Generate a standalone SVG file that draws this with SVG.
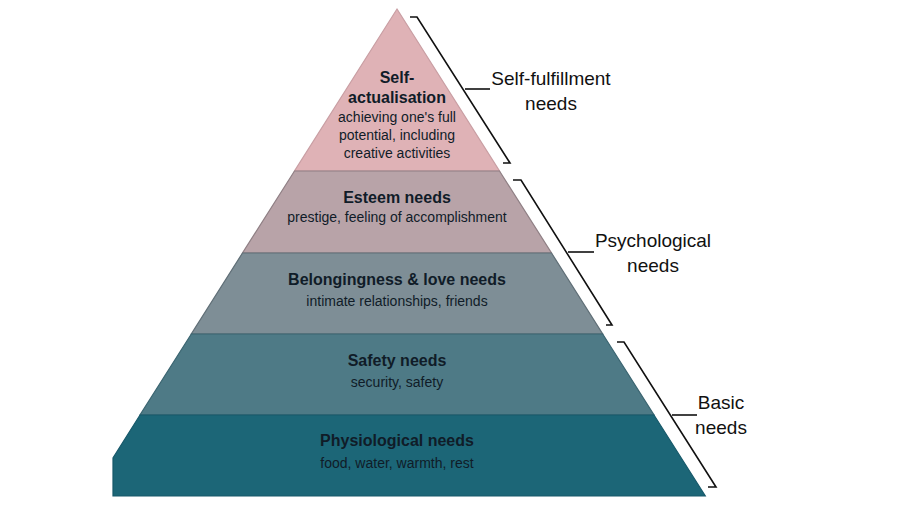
<svg xmlns="http://www.w3.org/2000/svg" width="900" height="506" viewBox="0 0 900 506">
<style>
.t{font-family:"Liberation Sans",Arial,sans-serif;fill:#101c28;text-anchor:middle}
.b{font-weight:bold;font-size:16px}
.s{font-size:14px}
.lab{font-family:"Liberation Sans",Arial,sans-serif;fill:#111;font-size:19px;text-anchor:middle}
.br{fill:none;stroke:#111;stroke-width:1.6}
.ly{stroke-width:1.2}
</style>
<rect width="900" height="506" fill="#ffffff"/>
<g id="self-actualisation">
<polygon class="ly" points="397,9 499.5,171 294.5,171" fill="#dfb2b6" stroke="#c99ea3"/>
<text class="t b" x="397" y="83">Self-</text>
<text class="t b" x="397" y="103">actualisation</text>
<text class="t s" x="397" y="122">achieving one's full</text>
<text class="t s" x="397" y="140">potential, including</text>
<text class="t s" x="397" y="158">creative activities</text>
</g>
<g id="esteem">
<polygon class="ly" points="294.5,171 499.5,171 551.5,253 242.5,253" fill="#b8a3a8" stroke="#8f7f84"/>
<text class="t b" x="397" y="203">Esteem needs</text>
<text class="t s" x="397" y="222">prestige, feeling of accomplishment</text>
</g>
<g id="belongingness">
<polygon class="ly" points="242.5,253 551.5,253 602.7,334 191.3,334" fill="#7e8e96" stroke="#5f6e76"/>
<text class="t b" x="397" y="285">Belongingness &amp; love needs</text>
<text class="t s" x="397" y="306">intimate relationships, friends</text>
</g>
<g id="safety">
<polygon class="ly" points="191.3,334 602.7,334 654,415 140,415" fill="#4e7a86" stroke="#3a6470"/>
<text class="t b" x="397" y="366">Safety needs</text>
<text class="t s" x="397" y="387">security, safety</text>
</g>
<g id="physiological">
<polygon class="ly" points="140,415 654,415 705.3,496 113,496 113,458" fill="#1c6677" stroke="#17596a"/>
<text class="t b" x="397" y="446">Physiological needs</text>
<text class="t s" x="397" y="468">food, water, warmth, rest</text>
</g>
<g id="connectors">
<polyline class="br" points="410,17 417,17 510,163 503,163"/>
<line class="br" x1="465" y1="89" x2="490" y2="89"/>
<polyline class="br" points="513,180 521,180 612,325 606,325"/>
<line class="br" x1="568" y1="252" x2="594" y2="252"/>
<polyline class="br" points="617,342 624,342 716,487 708,487"/>
<line class="br" x1="672" y1="415" x2="697" y2="415"/>
</g>
<g id="label-self-fulfillment">
<text class="lab" x="551" y="85">Self-fulfillment</text>
<text class="lab" x="551" y="110">needs</text>
</g>
<g id="label-psychological">
<text class="lab" x="653" y="247">Psychological</text>
<text class="lab" x="653" y="272">needs</text>
</g>
<g id="label-basic">
<text class="lab" x="721" y="409">Basic</text>
<text class="lab" x="721" y="434">needs</text>
</g>
</svg>
